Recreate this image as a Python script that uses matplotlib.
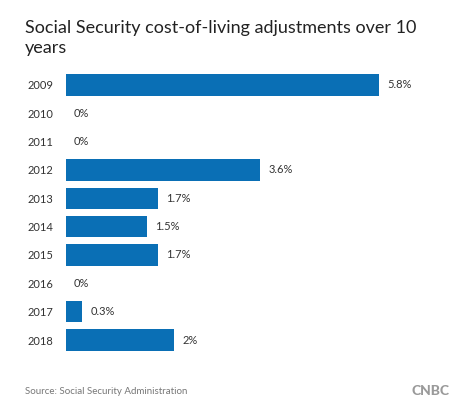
import matplotlib.pyplot as plt

years = ['2009', '2010', '2011', '2012', '2013', '2014', '2015', '2016', '2017', '2018']
cola = [5.8, 0, 0, 3.6, 1.7, 1.5, 1.7, 0, 0.3, 2]
value_labels = ['5.8%', '0%', '0%', '3.6%', '1.7%', '1.5%', '1.7%', '0%', '0.3%', '2%']

plt.rcParams['font.family'] = ['Lato', 'DejaVu Sans']

fig = plt.figure(figsize=(4.6, 4.16), dpi=100)
ax = fig.add_axes([66 / 460, 0.1486, 374 / 460, 0.6812])

ypos = range(len(years))
ax.barh(ypos, cola, height=0.76, color='#0a6fb5', edgecolor='none')

for y, v, lab in zip(ypos, cola, value_labels):
    ax.text(v + 0.15, y, lab, va='center', ha='left', fontsize=8, color='#333333')

ax.set_yticks(list(ypos))
ax.set_yticklabels(years, fontsize=8, color='#333333')
ax.tick_params(axis='y', length=0, pad=9)
ax.set_xticks([])
ax.set_xlim(0, 374 / 54)
ax.set_ylim(9.5, -0.5)
for s in ax.spines.values():
    s.set_visible(False)

# title on two lines, placed by baseline
fig.text(25 / 460, 1 - 33 / 416, 'Social Security cost-of-living adjustments over 10',
         ha='left', va='baseline', fontsize=13, color='#222222')
fig.text(25 / 460, 1 - 53 / 416, 'years',
         ha='left', va='baseline', fontsize=13, color='#222222')
fig.text(25 / 460, 1 - 391 / 416, 'Source: Social Security Administration',
         ha='left', va='center', fontsize=7, color='#777777')
fig.text(450 / 460, 1 - 391 / 416, 'CNBC', ha='right', va='center',
         fontsize=10, fontweight='black', color='#9a9a9a')

fig.savefig('out.png', dpi=100)
